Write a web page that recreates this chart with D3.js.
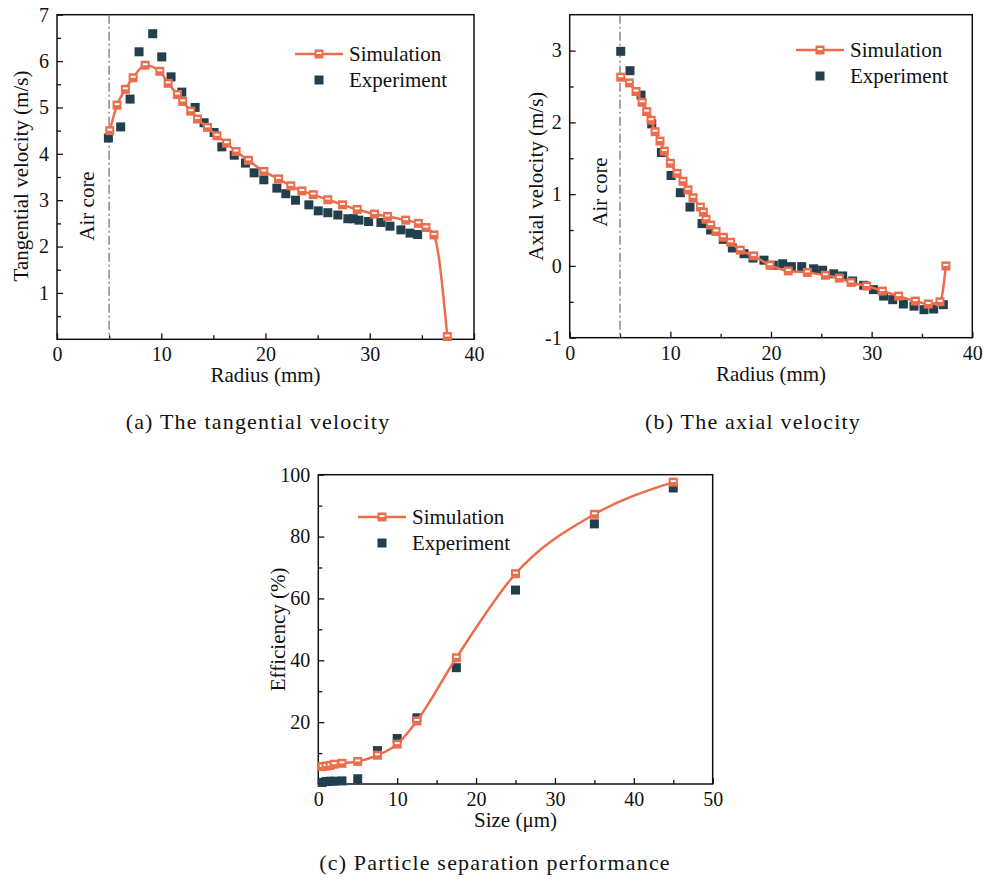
<!DOCTYPE html>
<html>
<head>
<meta charset="utf-8">
<script src="https://cdn.jsdelivr.net/npm/d3@7"></script>
<style>
  body { margin: 0; background: #fff; }
  svg text { font-family: "Liberation Serif", "Times New Roman", "DejaVu Serif", serif; fill: #111; }
</style>
</head>
<body>
<svg id="chart"></svg>
<script>
// (a) tangential velocity vs radius
const tanSimX = [5.06, 5.76, 6.56, 7.30, 8.45, 9.86, 10.66, 11.55, 12.06, 12.83, 13.47, 14.43, 15.33, 16.26, 17.18, 18.37, 19.84, 21.25, 22.43, 23.49, 24.58, 25.98, 27.39, 28.80, 30.46, 31.71, 33.44, 34.66, 35.39, 36.16, 37.44];
const tanSimY = [4.50, 5.05, 5.39, 5.64, 5.91, 5.78, 5.52, 5.28, 5.13, 4.92, 4.75, 4.57, 4.39, 4.23, 4.05, 3.86, 3.62, 3.46, 3.31, 3.20, 3.12, 3.01, 2.90, 2.80, 2.70, 2.65, 2.57, 2.50, 2.41, 2.25, 0.06];
const tanExpX = [4.93, 6.11, 7.01, 7.87, 9.18, 10.05, 10.94, 11.97, 13.25, 14.11, 15.07, 15.81, 17.00, 18.08, 18.91, 19.84, 21.09, 21.95, 22.88, 24.16, 25.06, 25.98, 26.94, 27.90, 28.42, 28.96, 29.89, 31.07, 31.94, 32.99, 33.86, 34.59];
const tanExpY = [4.34, 4.58, 5.18, 6.20, 6.59, 6.09, 5.66, 5.33, 5.00, 4.67, 4.46, 4.15, 3.97, 3.80, 3.59, 3.44, 3.26, 3.14, 3.00, 2.90, 2.77, 2.73, 2.68, 2.60, 2.60, 2.57, 2.54, 2.52, 2.44, 2.36, 2.29, 2.26];

// (b) axial velocity vs radius
const axSimX = [5.07, 5.93, 6.59, 7.19, 7.65, 8.08, 8.48, 8.97, 9.40, 10.00, 10.66, 11.26, 11.75, 12.25, 12.98, 13.28, 13.54, 14.00, 14.54, 15.26, 15.99, 16.95, 18.28, 19.90, 21.72, 23.61, 25.40, 26.79, 27.95, 29.50, 31.06, 32.68, 34.34, 35.63, 36.79, 37.38];
const axSimY = [2.63, 2.55, 2.43, 2.28, 2.15, 2.03, 1.87, 1.74, 1.60, 1.43, 1.29, 1.18, 1.06, 0.95, 0.82, 0.75, 0.65, 0.57, 0.48, 0.40, 0.33, 0.22, 0.14, 0.01, -0.07, -0.09, -0.13, -0.17, -0.23, -0.28, -0.35, -0.42, -0.49, -0.53, -0.50, 0.00];
const axExpX = [5.07, 5.99, 7.09, 8.15, 9.11, 10.07, 10.99, 11.95, 13.15, 14.00, 15.26, 16.16, 17.32, 18.21, 19.30, 20.23, 21.16, 22.02, 23.05, 24.24, 25.13, 26.23, 27.12, 28.11, 29.21, 30.17, 31.19, 32.09, 33.15, 34.21, 35.20, 36.16, 37.12];
const axExpY = [2.99, 2.72, 2.38, 1.98, 1.58, 1.26, 1.02, 0.82, 0.59, 0.50, 0.37, 0.25, 0.17, 0.11, 0.08, 0.01, 0.03, -0.01, -0.01, -0.04, -0.06, -0.11, -0.14, -0.21, -0.27, -0.33, -0.42, -0.47, -0.53, -0.56, -0.61, -0.60, -0.54];

// (c) separation efficiency vs particle size
const effSimX = [0.5, 1, 1.5, 2, 3, 5, 7.5, 10, 12.5, 17.5, 25, 35, 45];
const effSimY = [5.6, 5.8, 6.0, 6.4, 6.7, 7.3, 9.3, 12.9, 20.4, 40.8, 68.0, 87.2, 97.6];
const effExpX = [0.5, 1, 1.5, 2, 3, 5, 7.5, 10, 12.5, 17.5, 25, 35, 45];
const effExpY = [0.5, 0.8, 0.9, 0.9, 1.0, 1.7, 10.8, 14.7, 21.4, 37.6, 62.7, 84.1, 95.7];

const legendLabels = ["Simulation", "Experiment"];
const captions = ["(a) The tangential velocity", "(b) The axial velocity", "(c) Particle separation performance"];

const simColor = "#ec6c4c";
const expColor = "#213f4c";

let width = 984;
let height = 883;

let svg = d3.select("#chart")
    .attr("width", width)
    .attr("height", height);

let zip = (xs, ys) => xs.map((x, i) => ({ x: x, y: ys[i] }));

function simMarker(g, cx, cy) {
    g.append("rect")
        .attr("x", cx - 4.5).attr("y", cy - 4.5)
        .attr("width", 9).attr("height", 9)
        .attr("fill", simColor);
    g.append("rect")
        .attr("x", cx - 2.5).attr("y", cy - 2)
        .attr("width", 5).attr("height", 2)
        .attr("fill", "#fff");
}

function drawPanel(p) {
    let g = svg.append("g");
    let x = d3.scaleLinear().domain(p.xDomain).range([p.left, p.right]);
    let y = d3.scaleLinear().domain(p.yDomain).range([p.bottom, p.top]);

    // minor ticks
    g.append("g")
        .attr("transform", `translate(0, ${p.bottom})`)
        .call(d3.axisBottom(x).tickValues(p.xMinor).tickSize(-4).tickFormat(""))
        .call(a => a.select(".domain").remove());
    g.append("g")
        .attr("transform", `translate(${p.left}, 0)`)
        .call(d3.axisLeft(y).tickValues(p.yMinor).tickSize(-4).tickFormat(""))
        .call(a => a.select(".domain").remove());

    // major ticks (plain hyphen for negatives, like the original)
    let fmt = d => String(d);
    let xAxis = g.append("g")
        .attr("transform", `translate(0, ${p.bottom})`)
        .call(d3.axisBottom(x).tickValues(p.xTicks).tickSize(-6).tickPadding(8).tickFormat(fmt));
    xAxis.select(".domain").remove();
    xAxis.selectAll("text").style("font-size", "20px").attr("fill", "#111");

    let yAxis = g.append("g")
        .attr("transform", `translate(${p.left}, 0)`)
        .call(d3.axisLeft(y).tickValues(p.yTicks).tickSize(-6).tickPadding(8).tickFormat(fmt));
    yAxis.select(".domain").remove();
    yAxis.selectAll("text").style("font-size", "20px").attr("fill", "#111");

    g.selectAll(".tick line").attr("stroke", "#111").attr("stroke-width", 1.3);

    // frame
    g.append("rect")
        .attr("x", p.left).attr("y", p.top)
        .attr("width", p.right - p.left).attr("height", p.bottom - p.top)
        .attr("fill", "none").attr("stroke", "#111").attr("stroke-width", 1.5);

    // air core marker
    if (p.airCore) {
        g.append("line")
            .attr("x1", x(5)).attr("x2", x(5))
            .attr("y1", p.top).attr("y2", p.bottom)
            .attr("stroke", "#777").attr("stroke-width", 1.3)
            .attr("stroke-dasharray", "9,3,2,3");
        g.append("text")
            .attr("transform", `translate(${p.airCore[0]}, ${p.airCore[1]}) rotate(-90)`)
            .attr("text-anchor", "middle")
            .style("font-size", "21px")
            .text("Air core");
    }

    // experiment points
    g.selectAll(".exp")
        .data(p.exp)
        .enter().append("rect")
        .attr("class", "exp")
        .attr("x", d => x(d.x) - 4.5)
        .attr("y", d => y(d.y) - 4.5)
        .attr("width", 9).attr("height", 9)
        .attr("fill", expColor);

    // simulation line + markers
    let line = d3.line()
        .x(d => x(d.x))
        .y(d => y(d.y))
        .curve(d3.curveMonotoneX);
    g.append("path")
        .datum(p.sim)
        .attr("d", line)
        .attr("fill", "none")
        .attr("stroke", simColor)
        .attr("stroke-width", 2.5);
    p.sim.forEach(d => simMarker(g, x(d.x), y(d.y)));

    // axis labels
    g.append("text")
        .attr("x", (p.left + p.right) / 2 + p.xLabelShift)
        .attr("y", p.bottom + 43)
        .attr("text-anchor", "middle")
        .style("font-size", "21px")
        .text(p.xLabel);
    g.append("text")
        .attr("transform", `translate(${p.yLabelX}, ${(p.top + p.bottom) / 2 + p.yLabelShift}) rotate(-90)`)
        .attr("text-anchor", "middle")
        .style("font-size", "21px")
        .text(p.yLabel);

    // legend
    let lx = p.legend[0], ly = p.legend[1];
    g.append("line")
        .attr("x1", lx - 24).attr("x2", lx + 24)
        .attr("y1", ly).attr("y2", ly)
        .attr("stroke", simColor).attr("stroke-width", 2.5);
    simMarker(g, lx, ly);
    g.append("text")
        .attr("x", lx + 30).attr("y", ly + 7)
        .style("font-size", "21px")
        .text(legendLabels[0]);
    g.append("rect")
        .attr("x", lx - 4.5).attr("y", ly + 26 - 4.5)
        .attr("width", 9).attr("height", 9)
        .attr("fill", expColor);
    g.append("text")
        .attr("x", lx + 30).attr("y", ly + 33)
        .style("font-size", "21px")
        .text(legendLabels[1]);

    // caption
    svg.append("text")
        .attr("x", p.caption[0]).attr("y", p.caption[1])
        .attr("text-anchor", "middle")
        .style("font-size", "22px")
        .style("letter-spacing", "1.2px")
        .text(p.captionText);
}

drawPanel({
    left: 57, right: 474, top: 14.7, bottom: 339.3,
    xDomain: [0, 40], yDomain: [0, 7],
    xTicks: [0, 10, 20, 30, 40], xMinor: [5, 15, 25, 35],
    yTicks: [1, 2, 3, 4, 5, 6, 7], yMinor: [0.5, 1.5, 2.5, 3.5, 4.5, 5.5, 6.5],
    sim: zip(tanSimX, tanSimY), exp: zip(tanExpX, tanExpY),
    xLabel: "Radius (mm)", xLabelShift: 0,
    yLabel: "Tangential velocity (m/s)", yLabelX: 28, yLabelShift: -1,
    airCore: [94, 206],
    legend: [319, 54],
    caption: [258, 429], captionText: captions[0]
});

drawPanel({
    left: 569.7, right: 972.3, top: 14.7, bottom: 337.7,
    xDomain: [0, 40], yDomain: [-1, 3.5],
    xTicks: [0, 10, 20, 30, 40], xMinor: [5, 15, 25, 35],
    yTicks: [-1, 0, 1, 2, 3], yMinor: [-0.5, 0.5, 1.5, 2.5],
    sim: zip(axSimX, axSimY), exp: zip(axExpX, axExpY),
    xLabel: "Radius (mm)", xLabelShift: 0,
    yLabel: "Axial velocity (m/s)", yLabelX: 543, yLabelShift: 0,
    airCore: [607, 192],
    legend: [820, 50],
    caption: [753, 429], captionText: captions[1]
});

drawPanel({
    left: 318.3, right: 712.7, top: 474.7, bottom: 784,
    xDomain: [0, 50], yDomain: [0, 100],
    xTicks: [0, 10, 20, 30, 40, 50], xMinor: [5, 15, 25, 35, 45],
    yTicks: [20, 40, 60, 80, 100], yMinor: [10, 30, 50, 70, 90],
    sim: zip(effSimX, effSimY), exp: zip(effExpX, effExpY),
    xLabel: "Size (\u03bcm)", xLabelShift: 0,
    yLabel: "Efficiency (%)", yLabelX: 285, yLabelShift: 0,
    airCore: null,
    legend: [382, 517],
    caption: [495, 870], captionText: captions[2]
});
</script>
</body>
</html>
